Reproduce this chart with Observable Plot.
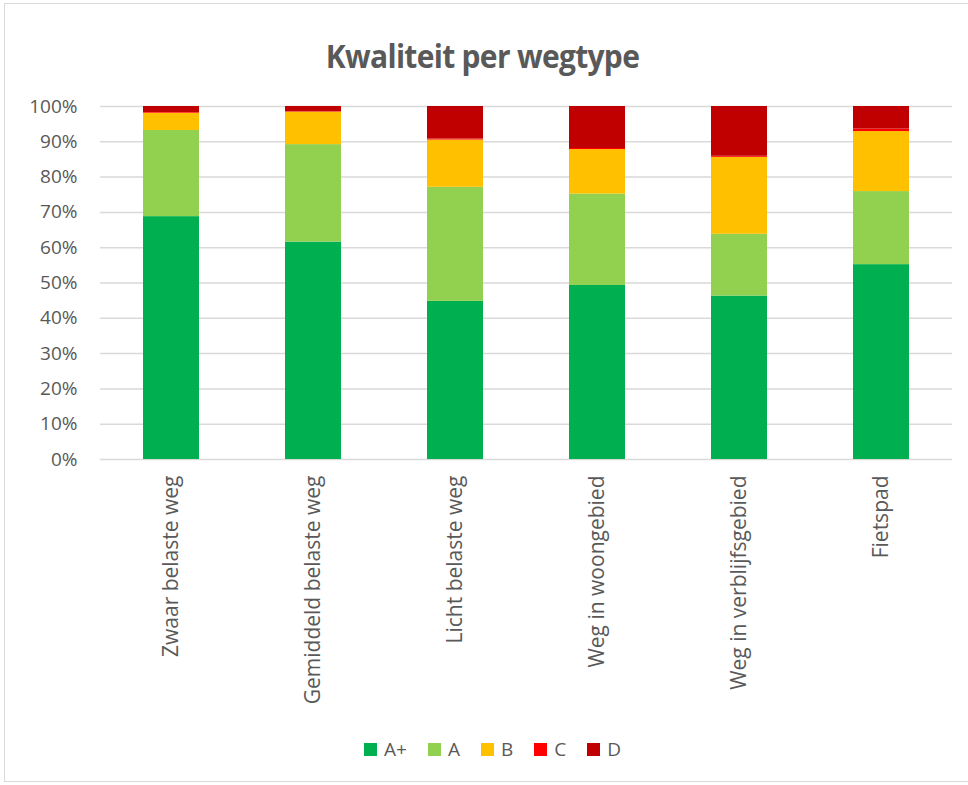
<!DOCTYPE html>
<html>
<head>
<meta charset="utf-8">
<script src="https://cdn.jsdelivr.net/npm/d3@7"></script>
<script src="https://cdn.jsdelivr.net/npm/@observablehq/plot@0.6"></script>
<style>
  html, body { margin: 0; padding: 0; background: #ffffff; }
  body { width: 968px; height: 785px; position: relative; overflow: hidden; font-family: "Open Sans", sans-serif; }
  #frame { position: absolute; left: 4px; top: 3px; width: 980px; height: 779px; border: 1px solid #d9d9d9; box-sizing: border-box; }
  #title { position: absolute; left: 0; width: 965px; top: 35px; height: 41px; line-height: 41px; text-align: center;
           font-size: 30px; font-weight: 700; color: #595959; letter-spacing: -0.7px; white-space: nowrap;
           transform: scaleY(1.1); }
  #chart { position: absolute; left: 0; top: 90px; }
  #legend { position: absolute; left: 364px; top: 736px; height: 26px; display: flex; align-items: center; }
  .item { display: flex; align-items: center; margin-right: 21px; font-size: 19px; color: #595959; }
  .sw { width: 13px; height: 13px; margin-right: 7px; }
</style>
</head>
<body>
<div id="frame"></div>
<div id="title">Kwaliteit per wegtype</div>
<div id="chart"></div>
<div id="legend"></div>
<script>
const categories = ["Zwaar belaste weg", "Gemiddeld belaste weg", "Licht belaste weg", "Weg in woongebied", "Weg in verblijfsgebied", "Fietspad"];
const grades = ["A+", "A", "B", "C", "D"];
const colors = ["#00b050", "#92d050", "#ffc000", "#ff0000", "#c00000"];
const valuesAplus = [68.8, 61.6, 44.8, 49.3, 46.3, 55.2];
const valuesA     = [24.4, 27.6, 32.3, 25.9, 17.5, 20.7];
const valuesB     = [4.9, 9.2, 13.4, 12.6, 21.8, 17.0];
const valuesC     = [0.2, 0.1, 0.3, 0.3, 0.3, 0.7];
const valuesD     = [1.7, 1.5, 9.2, 11.9, 14.1, 6.4];
const yTicks = [0, 10, 20, 30, 40, 50, 60, 70, 80, 90, 100];

const series = [valuesAplus, valuesA, valuesB, valuesC, valuesD];
const data = categories.flatMap((c, i) => grades.map((g, j) => ({type: c, grade: g, value: series[j][i]})));

const chart = Plot.plot({
  width: 968,
  height: 619,
  marginTop: 16,
  marginBottom: 250,
  marginLeft: 100,
  marginRight: 16,
  style: {fontFamily: "Open Sans", fontSize: "19px", color: "#595959", background: "transparent"},
  x: {domain: categories, paddingInner: 0.606, paddingOuter: 0.303},
  y: {domain: [0, 100]},
  color: {domain: grades, range: colors},
  marks: [
    Plot.ruleY(yTicks, {stroke: "#d9d9d9", strokeWidth: 1.5}),
    Plot.barY(data, {x: "type", y: "value", fill: "grade"}),
    Plot.axisY({ticks: yTicks, tickFormat: d => d + "%", label: null, tickSize: 0, tickPadding: 23, fontSize: 19}),
    Plot.axisX({label: null, tickSize: 0, tickPadding: 16, tickRotate: -90, fontSize: 21})
  ]
});
document.getElementById("chart").appendChild(chart);

const legend = document.getElementById("legend");
grades.forEach((g, i) => {
  const item = document.createElement("div");
  item.className = "item";
  const sw = document.createElement("div");
  sw.className = "sw";
  sw.style.background = colors[i];
  const lab = document.createElement("span");
  lab.textContent = g;
  item.appendChild(sw);
  item.appendChild(lab);
  legend.appendChild(item);
});
</script>
</body>
</html>
